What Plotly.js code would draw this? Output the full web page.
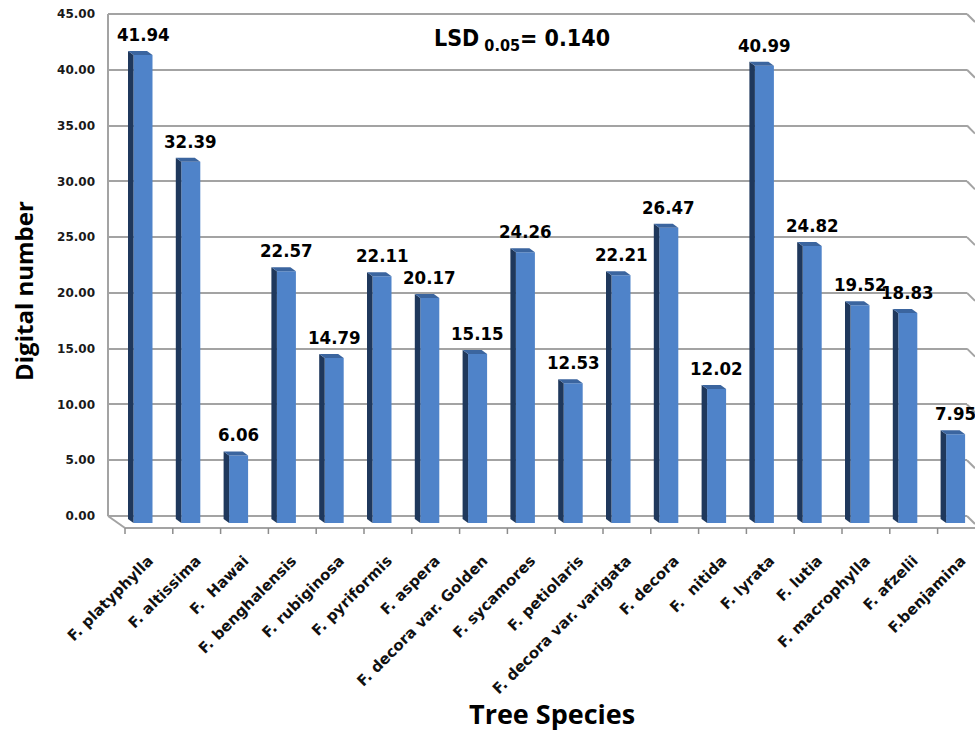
<!DOCTYPE html>
<html>
<head>
<meta charset="utf-8">
<script src="https://cdn.plot.ly/plotly-3.0.1.min.js"></script>
<style>html,body{margin:0;padding:0;background:#fff}</style>
</head>
<body>
<div id="chart" style="width:975px;height:733px"></div>
<script>
// Digital number per Ficus species
const species = [
  'F. platyphylla', 'F. altissima', 'F.\u00a0 Hawai', 'F. benghalensis', 'F. rubiginosa',
  'F. pyriformis', 'F. aspera', 'F. decora var. Golden', 'F. sycamores', 'F. petiolaris',
  'F. decora var. varigata', 'F. decora', 'F.\u00a0 nitida', 'F. lyrata', 'F. lutia',
  'F. macrophylla', 'F. afzelii', 'F.benjamina'
];
const digitalNumber = [
  41.94, 32.39, 6.06, 22.57, 14.79, 22.11, 20.17, 15.15, 24.26, 12.53,
  22.21, 26.47, 12.02, 40.99, 24.82, 19.52, 18.83, 7.95
];
const yTickValues = [0, 5, 10, 15, 20, 25, 30, 35, 40, 45];
const lsdLabel = 'LSD<sub> 0.05</sub>= 0.140';
const xTitle = 'Tree Species';
const yTitle = 'Digital number';

// Page geometry (pixels) for the pseudo-3D column look
const W = 975, H = 733;
const L = 108, R = 967, T = 10, B = 540;   // plot area
const slot = 47.8;                          // width of one category slot
const face0 = 143;                          // centre of the first front face
const pxPerUnit = 11.156;                   // vertical scale
const backZero = 516;                       // zero line on the back wall
const frontZero = 523;                      // base of the columns
const floorFront = 528;                     // front edge of the floor

const xRange = [(L - face0) / slot, (R - face0) / slot];
const yBackRange = [-(B - backZero) / pxPerUnit, (backZero - T) / pxPerUnit];
const yFrontRange = [-(B - frontZero) / pxPerUnit, (frontZero - T) / pxPerUnit];

const halfW = 9.5 / slot;      // half width of a front face
const depthX = 5.5 / slot;     // depth offset, horizontal
const depthY = 4 / pxPerUnit;  // depth offset, vertical
const plotW = R - L;

const frontColor = '#4f83c9';
const sideColor = '#1f385c';
const topColor = '#3b659f';
const gridColor = '#a3a3a3';

const idx = species.map((_, i) => i);

const bars = {
  type: 'bar',
  x: idx,
  y: digitalNumber,
  xaxis: 'x',
  yaxis: 'y',
  width: 2 * halfW,
  marker: { color: frontColor, line: { width: 0 } },
  hoverinfo: 'skip',
  showlegend: false
};

// Axis that carries the back-wall grid and its tick labels
const wallTrace = {
  type: 'scatter', mode: 'markers',
  x: [idx[0]], y: [yTickValues[0]],
  xaxis: 'x', yaxis: 'y2',
  marker: { opacity: 0 }, hoverinfo: 'skip', showlegend: false
};

const shapes = [];
const poly = pts => 'M' + pts.map(p => p[0] + ',' + p[1]).join(' L') + ' Z';

// side and top faces of each column
digitalNumber.forEach((v, k) => {
  const xl = k - halfW, xr = k + halfW;
  shapes.push({
    type: 'path', xref: 'x', yref: 'y', layer: 'above',
    path: poly([[xl, 0], [xl, v], [xl - depthX, v + depthY], [xl - depthX, depthY]]),
    fillcolor: sideColor, line: { width: 0 }
  });
  shapes.push({
    type: 'path', xref: 'x', yref: 'y', layer: 'above',
    path: poly([[xl, v], [xr, v], [xr - depthX, v + depthY], [xl - depthX, v + depthY]]),
    fillcolor: topColor, line: { width: 0 }
  });
});

const floorY = -(floorFront - backZero) / pxPerUnit;
// left wall edge
shapes.push({ type: 'line', xref: 'paper', yref: 'y2', x0: 0, x1: 0, y0: 0, y1: yTickValues[yTickValues.length - 1],
  line: { color: gridColor, width: 2 }, layer: 'below' });
// floor: left diagonal and front edge
shapes.push({ type: 'line', xref: 'paper', yref: 'y2', x0: 0, x1: (125 - L) / plotW, y0: 0, y1: floorY,
  line: { color: gridColor, width: 2 } });
shapes.push({ type: 'line', xref: 'paper', yref: 'y2', x0: (125 - L) / plotW, x1: (W - L) / plotW, y0: floorY, y1: floorY,
  line: { color: gridColor, width: 2 } });
// right wall fold of each gridline
yTickValues.forEach(v => {
  shapes.push({ type: 'line', xref: 'paper', yref: 'y2', x0: 1, x1: (W - L) / plotW, y0: v, y1: v - 8 / pxPerUnit,
    line: { color: gridColor, width: 2 }, layer: 'below' });
});
// category separator ticks on the floor edge
idx.forEach(k => {
  const xb = k - (face0 - 125) / slot;
  shapes.push({ type: 'line', xref: 'x', yref: 'y2', x0: xb, x1: xb, y0: floorY, y1: floorY - 6 / pxPerUnit,
    line: { color: '#8c8c8c', width: 1.5 } });
});

const valueFont = { family: 'DejaVu Sans Condensed, DejaVu Sans', size: 18.5, color: '#000', weight: 'bold' };
const annotations = digitalNumber.map((v, k) => ({
  xref: 'x', yref: 'y', x: k, y: v,
  text: v.toFixed(2), showarrow: false,
  xanchor: 'center', yanchor: 'bottom', yshift: 8,
  font: valueFont
}));

annotations.push({
  xref: 'paper', yref: 'paper', x: (521.5 - L) / plotW, y: (B - 40) / (B - T),
  xanchor: 'center', yanchor: 'middle', showarrow: false,
  text: lsdLabel,
  font: { family: 'DejaVu Sans Condensed, DejaVu Sans', size: 23, color: '#000', weight: 'bold' }
});
annotations.push({
  xref: 'paper', yref: 'paper', x: (552 - L) / plotW, y: (B - 713) / (B - T),
  xanchor: 'center', yanchor: 'middle', showarrow: false,
  text: xTitle,
  font: { family: 'Open Sans', size: 27, color: '#000', weight: 'bold' }
});
annotations.push({
  xref: 'paper', yref: 'paper', x: (23 - L) / plotW, y: (B - 291) / (B - T),
  xanchor: 'center', yanchor: 'middle', showarrow: false, textangle: -90,
  text: yTitle,
  font: { family: 'Open Sans', size: 24, color: '#000', weight: 'bold' }
});

const layout = {
  width: W, height: H,
  margin: { l: L, r: W - R, t: T, b: H - B, pad: 0 },
  paper_bgcolor: '#fff', plot_bgcolor: 'rgba(0,0,0,0)',
  showlegend: false,
  barmode: 'overlay',
  xaxis: {
    range: xRange, showgrid: false, zeroline: false, showline: false,
    tickmode: 'array', tickvals: idx.map(k => k + 0.12), ticktext: species,
    tickangle: -45, ticks: '', ticklabelstandoff: 8,
    tickfont: { family: 'DejaVu Sans', size: 15, color: '#111', weight: 'bold' }
  },
  yaxis: {
    range: yFrontRange, showgrid: false, zeroline: false, showline: false,
    showticklabels: false, ticks: ''
  },
  yaxis2: {
    overlaying: 'y', side: 'left', range: yBackRange,
    tickmode: 'array', tickvals: yTickValues, ticktext: yTickValues.map(v => v.toFixed(2)),
    showgrid: true, gridcolor: gridColor, gridwidth: 2,
    zeroline: false, showline: false, ticks: '', ticklabelstandoff: 12,
    tickfont: { family: 'DejaVu Sans', size: 12, color: '#1a1a1a', weight: 'bold' }
  },
  shapes: shapes,
  annotations: annotations,
  hovermode: false
};

Plotly.newPlot('chart', [wallTrace, bars], layout, { staticPlot: true, displayModeBar: false });
</script>
</body>
</html>
